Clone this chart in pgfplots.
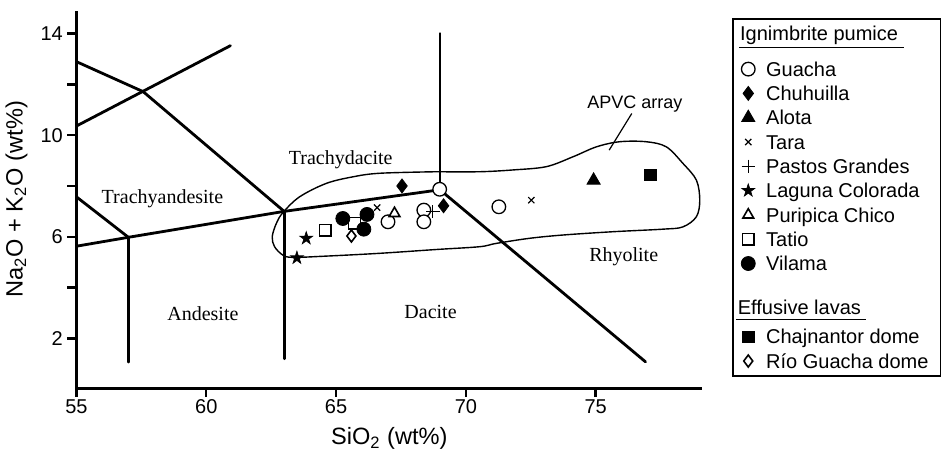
\documentclass[border=0pt]{standalone}
\usepackage{fontspec}
\setmainfont{Liberation Sans}
\newfontfamily\tnr{Liberation Serif}
\usepackage{pgfplots}
\pgfplotsset{compat=1.18}
\pgfdeclareplotmark{fstar}{%
  \pgfpathmoveto{\pgfpointpolar{90}{\pgfplotmarksize}}%
  \pgfpathlineto{\pgfpointpolar{126}{0.382\pgfplotmarksize}}%
  \pgfpathlineto{\pgfpointpolar{162}{\pgfplotmarksize}}%
  \pgfpathlineto{\pgfpointpolar{198}{0.382\pgfplotmarksize}}%
  \pgfpathlineto{\pgfpointpolar{234}{\pgfplotmarksize}}%
  \pgfpathlineto{\pgfpointpolar{270}{0.382\pgfplotmarksize}}%
  \pgfpathlineto{\pgfpointpolar{306}{\pgfplotmarksize}}%
  \pgfpathlineto{\pgfpointpolar{342}{0.382\pgfplotmarksize}}%
  \pgfpathlineto{\pgfpointpolar{18}{\pgfplotmarksize}}%
  \pgfpathlineto{\pgfpointpolar{54}{0.382\pgfplotmarksize}}%
  \pgfpathclose
  \pgfusepathqfillstroke
}
\tikzset{
 sGuacha/.style={mark=*, mark size=3.4pt, mark options={draw=black, fill=white, line width=0.65pt}},
 sChuh/.style={mark=diamond*, mark size=3.5pt, mark options={draw=black, fill=black, line width=0.4pt}},
 sAlota/.style={mark=triangle*, mark size=3.8pt, mark options={draw=black, fill=black, line width=0.4pt}},
 sTara/.style={mark=x, mark size=2.2pt, mark options={draw=black, line width=0.6pt}},
 sPastos/.style={mark=+, mark size=3.3pt, mark options={draw=black, line width=0.55pt}},
 sLaguna/.style={mark=fstar, mark size=3.4pt, mark options={draw=black, fill=black, line width=0.3pt}},
 sPuri/.style={mark=triangle*, mark size=3.1pt, mark options={draw=black, fill=white, line width=0.8pt}},
 sTatio/.style={mark=square*, mark size=2.9pt, mark options={draw=black, fill=white, line width=0.65pt}},
 sVilama/.style={mark=*, mark size=3.5pt, mark options={draw=black, fill=black, line width=0.4pt}},
 sChaj/.style={mark=square*, mark size=2.9pt, mark options={draw=black, fill=black, line width=0.4pt}},
 sRio/.style={mark=diamond*, mark size=3.0pt, mark options={draw=black, fill=white, line width=0.8pt}},
 cls/.style={black, line width=1.4pt, line cap=round, line join=round},
 rlab/.style={font=\tnr\fontsize{10}{12}\selectfont, anchor=base, inner sep=0pt},
}
\newcommand\ls{\rule[-2.5pt]{0pt}{12.15pt}}
\begin{document}
\begin{tikzpicture}
\useasboundingbox (-38.25pt,-32pt) rectangle (432.75pt,194pt);
\begin{axis}[
  scale only axis, width=312.8pt, height=188.7pt,
  xmin=55, xmax=79.1, ymin=0.05, ymax=14.9,
  axis x line*=bottom, axis y line*=left,
  axis line style={line width=1.5pt, black},
  xtick={55,60,65,70,75},
  ytick={2,4,6,8,10,12,14}, yticklabels={2,,6,,10,,14},
  tick align=outside, major tick length=4.5pt,
  tick style={line width=1.2pt, black},
  /pgf/number format/assume math mode=true,
  ticklabel style={font=\fontsize{10}{12}\selectfont},
  xticklabel style={yshift=2.2pt},
  yticklabel style={xshift=1.2pt},
  xlabel={SiO\textsubscript{2} (wt\%)},
  ylabel={Na\textsubscript{2}O + K\textsubscript{2}O (wt\%)},
  every axis x label/.style={at={(axis description cs:0.5,-0.150)}, anchor=base, font=\fontsize{11.8}{14}\selectfont},
  every axis y label/.style={at={(axis description cs:-0.0863,0.5)}, anchor=base, rotate=90, font=\fontsize{11.8}{14}\selectfont},
  clip=false,
  legend image code/.code={\path[draw=none,fill=none] (0pt,-1pt) rectangle (9.2pt,1pt); \draw[mark repeat=1,#1] plot coordinates {(4.6pt,0pt)};},
  legend style={at={(1.0483,0.9796)}, anchor=north west, draw=black, line width=0.75pt,
    inner xsep=3pt, inner ysep=1.5pt, font=\fontsize{10}{12}\selectfont,
    cells={anchor=west}, nodes={inner sep=0pt, text depth=, text height=}, column sep=4.35pt, row sep=0pt},
]
% classification lines
\addplot[cls, forget plot] coordinates {(55,10.36) (60.93,13.52)};
\addplot[cls, forget plot] coordinates {(55,12.89) (57.57,11.71) (63,7.0)};
\addplot[cls, forget plot] coordinates {(55,5.63) (57,5.98) (63,7.0) (69,7.85)};
\addplot[cls, forget plot] coordinates {(55,7.57) (57,5.98)};
\addplot[cls, forget plot] coordinates {(57,5.98) (57,1.07)};
\addplot[cls, forget plot] coordinates {(63,7.0) (63,1.2)};
\addplot[cls, forget plot] coordinates {(69,14.0) (69,7.85)};
\addplot[cls, forget plot] coordinates {(69,7.85) (76.92,1.08)};
% APVC array envelope
\addplot[black, line width=0.7pt, smooth, tension=0.55, forget plot] coordinates {
 (68.86,8.56) (70.53,8.56) (71.81,8.63) (73.10,8.76) (74.13,9.15) (75.03,9.54)
 (75.92,9.74) (76.95,9.74) (77.72,9.54) (78.36,8.89) (78.88,8.23) (79.01,7.44)
 (78.88,6.79) (78.36,6.39) (77.59,6.30) (75.67,6.20) (73.74,6.07) (72.45,5.94)
 (71.17,5.74) (70.53,5.61) (68.86,5.50) (66.68,5.35) (64.62,5.24) (63.34,5.19)
 (62.95,5.28) (62.63,5.61) (62.54,6.00) (62.70,6.53) (62.95,6.95) (63.59,7.57)
 (64.62,8.10) (65.65,8.36) (66.68,8.50) (68.86,8.56)};
\addplot[black, line width=0.6pt, forget plot] coordinates {(76.39,10.85) (75.52,9.41)};
% region labels
\node[rlab] at (axis cs:58.31,7.31) {Trachyandesite};
\node[rlab] at (axis cs:65.18,8.86) {Trachydacite};
\node[rlab] at (axis cs:59.87,2.72) {Andesite};
\node[rlab] at (axis cs:68.64,2.79) {Dacite};
\node[rlab] at (axis cs:76.08,5.02) {Rhyolite};
\node[anchor=base, inner sep=0pt, font=\fontsize{9}{11}\selectfont] at (axis cs:76.51,11.05) {APVC array};
% data
\addplot[sTatio, only marks, forget plot] coordinates {(64.58,6.26) (65.71,6.53)};
\addplot[sVilama, only marks, forget plot] coordinates {(65.26,6.72) (66.19,6.88) (66.07,6.30)};
\addplot[sRio, only marks, forget plot] coordinates {(65.59,6.03)};
\addplot[sGuacha, only marks, forget plot] coordinates {(68.99,7.87) (67.0,6.59) (68.38,7.05) (68.38,6.59) (71.27,7.18)};
\addplot[sChuh, only marks, forget plot] coordinates {(67.54,8.0) (69.14,7.22)};
\addplot[sAlota, only marks, forget plot] coordinates {(74.92,8.22)};
\addplot[sTara, only marks, forget plot] coordinates {(66.58,7.15) (72.52,7.44)};
\addplot[sPastos, only marks, forget plot] coordinates {(68.73,6.98)};
\addplot[sLaguna, only marks, forget plot] coordinates {(63.85,5.94) (63.49,5.17)};
\addplot[sPuri, only marks, forget plot] coordinates {(67.25,6.92)};
\addplot[sChaj, only marks, forget plot] coordinates {(77.11,8.43)};
% legend
\addlegendimage{draw=none}
\addlegendentry{\hspace*{-13.5pt}\rlap{\rule[-3.6pt]{82.6pt}{0.5pt}}\hspace*{0.5pt}Ignimbrite pumice\rule[-8.1pt]{0pt}{17.45pt}}
\addlegendimage{sGuacha}\addlegendentry{Guacha\ls}
\addlegendimage{sChuh}\addlegendentry{Chuhuilla\ls}
\addlegendimage{sAlota}\addlegendentry{Alota\ls}
\addlegendimage{sTara}\addlegendentry{Tara\ls}
\addlegendimage{sPastos}\addlegendentry{Pastos Grandes\ls}
\addlegendimage{sLaguna}\addlegendentry{Laguna Colorada\ls}
\addlegendimage{sPuri}\addlegendentry{Puripica Chico\ls}
\addlegendimage{sTatio}\addlegendentry{Tatio\ls}
\addlegendimage{sVilama}\addlegendentry{Vilama\ls}
\addlegendimage{draw=none}
\addlegendentry{\hspace*{-15pt}\rlap{\rule[-3.1pt]{65pt}{0.5pt}}\hspace*{0.85pt}Effusive lavas\rule[-5.27pt]{0pt}{24.47pt}}
\addlegendimage{sChaj}\addlegendentry{Chajnantor dome\ls}
\addlegendimage{sRio}\addlegendentry{Río Guacha dome\ls\hspace*{2.9pt}}
\end{axis}
\end{tikzpicture}
\end{document}
